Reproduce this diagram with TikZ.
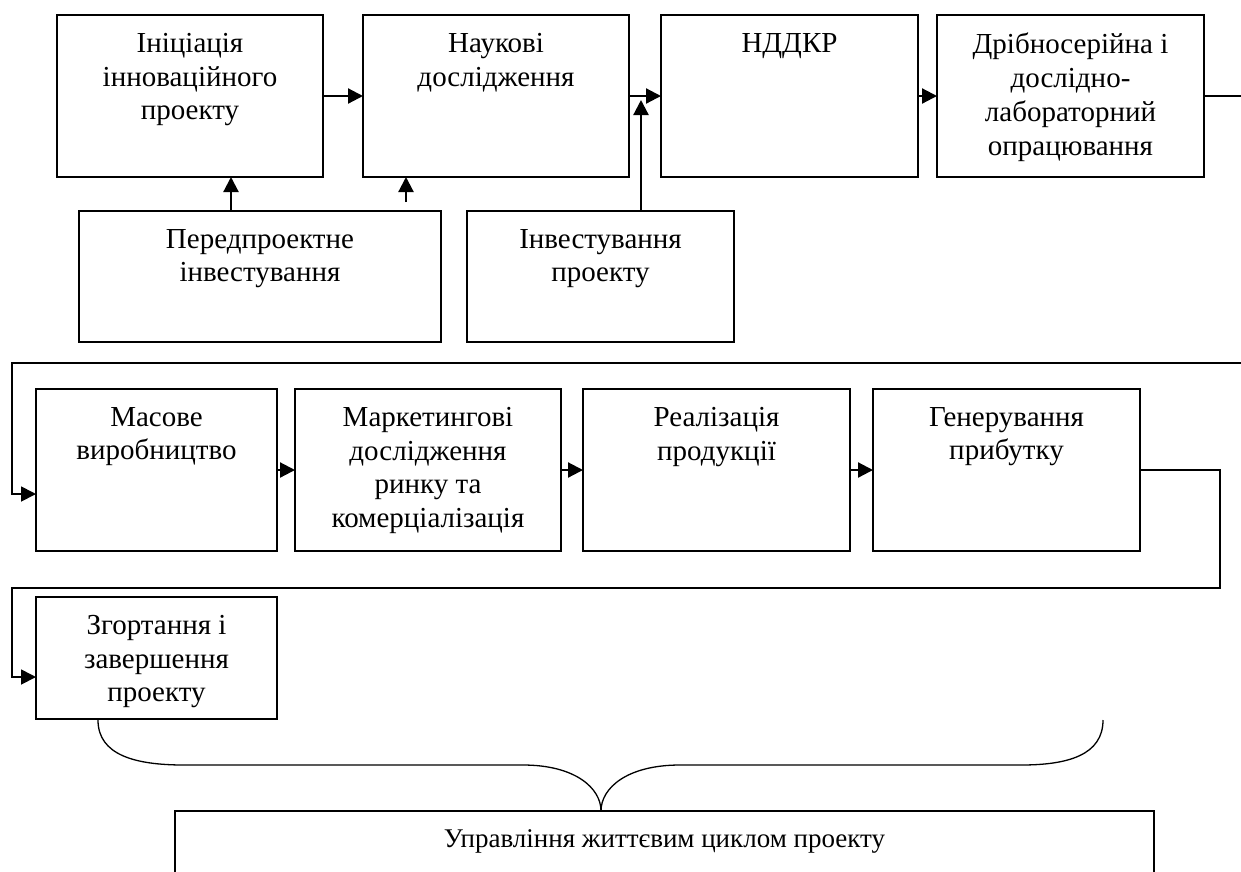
\documentclass[tikz,border=0pt]{standalone}
\usepackage{fontspec}
\setmainfont{Liberation Serif}
\usetikzlibrary{arrows.meta}

% one stage of the life cycle: frame plus its caption near the top edge
% #1 name, #2 left, #3 top, #4 right, #5 bottom, #6 caption
\newcommand\stagebox[6]{%
  \node[box, anchor=north west,
        minimum width={(#4-#2)*1pt}, minimum height={(#5-#3)*1pt}] (#1) at (#2,#3) {};
  \node[lbl, anchor=north] (#1-t) at ([yshift=-18pt]#1.north) {#6};%
}

\begin{document}
\begin{tikzpicture}[x=1pt,y=-1pt,
  box/.style={draw, line width=1.8pt, inner sep=0pt, outer sep=0pt},
  lbl/.style={align=center, inner sep=0pt, font=\fontsize{29}{33.7}\selectfont},
  arr/.style={line width=2.2pt, -{Triangle[length=15pt,width=15pt]}},
  route/.style={line width=1.8pt, -{Triangle[length=15pt,width=15pt]}},
  plain/.style={line width=1.8pt},
  bracestroke/.style={line width=1.3pt}]
\useasboundingbox (0,0) rectangle (1241,871);

% first row
\stagebox{b1}{57}{15}{323}{177}{Ініціація\\інноваційного\\проекту}
\stagebox{b2}{363}{15}{629}{177}{Наукові\\дослідження}
\stagebox{b3}{661}{15}{918}{177}{НДДКР}
\stagebox{b4}{937}{15}{1204}{177}{Дрібносерійна і\\дослідно-\\лабораторний\\опрацювання}

% investment sources
\stagebox{pre}{79}{211}{441}{342}{Передпроектне\\інвестування}
\stagebox{inv}{467}{211}{734}{342}{Інвестування\\проекту}

% second row
\stagebox{m1}{36}{389}{277}{551}{Масове\\виробництво}
\stagebox{m2}{295}{389}{561}{551}{Маркетингові\\дослідження\\ринку та\\комерціалізація}
\stagebox{m3}{583}{389}{850}{551}{Реалізація\\продукції}
\stagebox{m4}{873}{389}{1140}{551}{Генерування\\прибутку}

% closing stage
\stagebox{z}{36}{597}{277}{719}{Згортання і\\завершення\\проекту}

% management box at the bottom (runs past the lower edge)
\node[box, anchor=north west, minimum width=979pt, minimum height=80pt] (fin) at (175,811) {};
\node[lbl, anchor=north, font=\fontsize{27}{31}\selectfont] (fin-t) at ([yshift=-18pt]fin.north) {Управління життєвим циклом проекту};

% connectors of the first row
\draw[arr] (b1.east) -- (b2.west);
\draw[arr] (b2.east) -- (b3.west);
\draw[arr] (b3.east) -- (b4.west);
\coordinate (edgeR) at (1241,0);
\draw[plain] (b4.east) -- (b4.east -| edgeR);

% inputs from the investment boxes
\coordinate (p1) at (231,0);
\draw[arr] (pre.north -| p1) -- (b1.south -| p1);
\coordinate (s1) at (406,202);
\draw[arr] (s1) -- (s1 |- b2.south);
\coordinate (j) at (641,100);
\draw[arr] (inv.north -| j) -- (j);

% wrap from the first row into the second
\coordinate (r1) at (1241,363);
\coordinate (r2) at (12,363);
\coordinate (r3) at (12,494);
\draw[route] (r1) -- (r2) -- (r3) -- (r3 -| m1.west);

% second row
\draw[arr] (m1.east) -- (m2.west);
\draw[arr] (m2.east) -- (m3.west);
\draw[arr] (m3.east) -- (m4.west);

% wrap into the closing stage
\coordinate (q2) at (1220,588);
\coordinate (q3) at (12,588);
\coordinate (q4) at (12,677);
\draw[route] (m4.east) -- (m4.east -| q2) -- (q2) -- (q3) -- (q4) -- (q4 -| z.west);

% curly brace gathering the stages into the management box
\coordinate (tip) at (601,811);
\draw[bracestroke] (98,720) .. controls (98,755) and (135,765) .. (184,765)
  -- (523,765) .. controls (575,765) and (601,788) .. (tip);
\draw[bracestroke] (1103,720) .. controls (1103,755) and (1068,765) .. (1021,765)
  -- (680,765) .. controls (627,765) and (601,788) .. (tip);
\end{tikzpicture}
\end{document}
